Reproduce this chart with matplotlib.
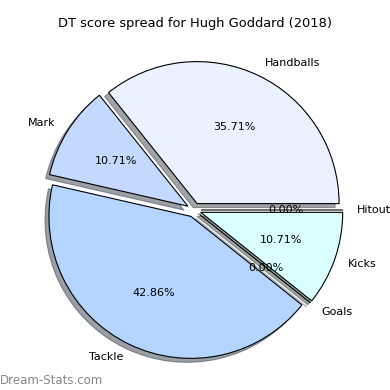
import matplotlib
matplotlib.use('Agg')
import matplotlib.pyplot as plt

# DT score breakdown
labels = ['Handballs', 'Mark', 'Tackle', 'Goals', 'Kicks', 'Hitout']
values = [10, 3, 12, 0, 3, 0]
colors = ['#eaf1ff', '#c5d9ff', '#b4d5ff', '#cce6ff', '#d9ffff', '#e0f0ff']
explode = [0.05] * len(values)

fig = plt.figure(figsize=(3.9, 3.9), dpi=100)
ax = fig.add_axes([0, 0, 1, 1])

ax.pie(values, labels=labels, colors=colors, explode=explode,
       autopct='%1.2f%%', shadow=True, startangle=0,
       wedgeprops={'edgecolor': 'black', 'linewidth': 0.8},
       textprops={'fontsize': 8})

# place the pie like the original: radius ~142px, centre at (194, 210)
r = 142.0
ax.set_xlim(-194 / r, 196 / r)
ax.set_ylim(-180 / r, 210 / r)
ax.set_aspect('equal')
ax.axis('off')

fig.text(0.5, 1 - 24 / 390, 'DT score spread for Hugh Goddard (2018)',
         ha='center', va='center', fontsize=9.4)
fig.text(0.0, 1 - 380 / 390, 'Dream-Stats.com', ha='left', va='center',
         fontsize=8.5, color='#888888')

fig.savefig('out.png')
